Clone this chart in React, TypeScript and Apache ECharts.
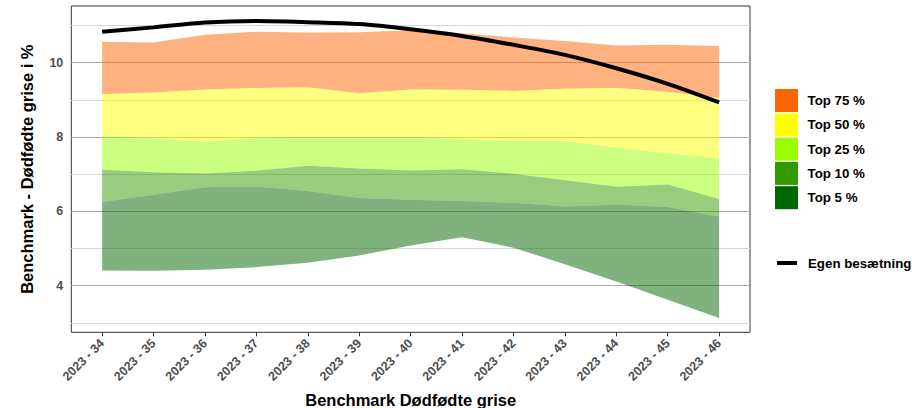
import React, { useEffect, useRef } from "react";
import * as echarts from "echarts";

const categories = [
  "2023 - 34", "2023 - 35", "2023 - 36", "2023 - 37", "2023 - 38", "2023 - 39", "2023 - 40",
  "2023 - 41", "2023 - 42", "2023 - 43", "2023 - 44", "2023 - 45", "2023 - 46",
];

// Band boundaries (values in %)
const lowerBound = [4.41, 4.40, 4.43, 4.50, 4.62, 4.81, 5.08, 5.30, 5.02, 4.58, 4.11, 3.62, 3.13];
const top5Upper = [6.25, 6.45, 6.65, 6.67, 6.55, 6.36, 6.31, 6.28, 6.23, 6.13, 6.18, 6.12, 5.86];
const top10Upper = [7.12, 7.05, 7.02, 7.09, 7.23, 7.15, 7.10, 7.13, 7.01, 6.84, 6.66, 6.72, 6.33];
const top25Upper = [8.03, 7.96, 7.87, 7.97, 8.00, 8.00, 8.00, 7.93, 7.90, 7.89, 7.71, 7.56, 7.42];
const top50Upper = [9.15, 9.20, 9.28, 9.32, 9.34, 9.18, 9.28, 9.27, 9.24, 9.30, 9.32, 9.22, 9.05];
const top75Upper = [10.56, 10.54, 10.75, 10.83, 10.81, 10.82, 10.87, 10.79, 10.68, 10.58, 10.46, 10.48, 10.45];
const ownHerd = [10.83, 10.95, 11.08, 11.12, 11.09, 11.04, 10.90, 10.72, 10.48, 10.21, 9.85, 9.43, 8.93];

const bandNames = ["Top 75 %", "Top 50 %", "Top 25 %", "Top 10 %", "Top 5 %"];
const bandColors = ["#FF6600", "#FFFF00", "#99FF00", "#339900", "#006600"];
const lineName = "Egen besætning";

const yLabelValues = [4, 6, 8, 10];
const yMinorGrid = [3, 5, 7, 9, 11];

const FONT = "'Liberation Sans', Arial, Helvetica, sans-serif";

const xIdx = categories.map((_, i) => i);

function bandSeries(name: string, lower: number[], upper: number[], color: string) {
  const fill = echarts.color.modifyAlpha(color, 0.5);
  return {
    type: "custom",
    name,
    z: 2,
    silent: true,
    data: lower.map((lo, i) => [i, lo, upper[i]]),
    encode: { x: 0, y: [1, 2] },
    renderItem: (params: any, api: any) => {
      if (params.dataIndex !== 0) return null;
      const top = upper.map((v, i) => api.coord([i, v]));
      const bottom = lower.map((v, i) => api.coord([i, v])).reverse();
      return {
        type: "polygon",
        shape: { points: top.concat(bottom) },
        style: { fill },
        silent: true,
      };
    },
  };
}

export default function App() {
  const ref = useRef<HTMLDivElement>(null);

  useEffect(() => {
    const chart = echarts.init(ref.current!, null, { renderer: "svg" });

    const bounds = [top75Upper, top50Upper, top25Upper, top10Upper, top5Upper, lowerBound];
    const bands = bandNames.map((n, k) => bandSeries(n, bounds[k + 1], bounds[k], bandColors[k]));

    const legendX = 775;
    const legendY = 89;
    const pitch = 24.3;
    const legendGraphics: any[] = [];
    bandNames.forEach((n, k) => {
      legendGraphics.push({
        type: "rect",
        left: legendX,
        top: legendY + k * pitch,
        shape: { width: 23, height: 23 },
        style: { fill: bandColors[k] },
      });
      legendGraphics.push({
        type: "text",
        x: 807.5,
        y: legendY + k * pitch + 11.5,
        style: {
          text: n,
          fill: "#000",
          font: `bold 13.3px ${FONT}`,
          verticalAlign: "middle",
          align: "left",
        },
      });
    });
    legendGraphics.push({
      type: "rect",
      left: 777,
      top: 261,
      shape: { width: 20, height: 4 },
      style: { fill: "#000" },
    });
    legendGraphics.push({
      type: "text",
      x: 808,
      y: 263,
      style: {
        text: lineName,
        fill: "#000",
        font: `bold 13.3px ${FONT}`,
        verticalAlign: "middle",
        align: "left",
      },
    });

    const gridLines = [
      ...yMinorGrid.map((v) => ({ yAxis: v, lineStyle: { color: "#d6d6d6", width: 1, type: "solid" } })),
      ...yLabelValues.map((v) => ({ yAxis: v, lineStyle: { color: "#a8a8a8", width: 1.1, type: "solid" } })),
    ];

    chart.setOption({
      animation: false,
      textStyle: { fontFamily: FONT },
      grid: {
        left: 71.3,
        right: 162,
        top: 6,
        bottom: 75.7,
        show: true,
        borderColor: "#333333",
        borderWidth: 1,
        backgroundColor: "#ffffff",
        containLabel: false,
        outerBoundsMode: "none",
      },
      xAxis: {
        type: "value",
        min: -0.6,
        max: 12.6,
        splitLine: { show: false },
        axisLine: { show: false },
        axisTick: { show: true, customValues: xIdx, length: 4, lineStyle: { color: "#333333" } },
        axisLabel: {
          customValues: xIdx,
          formatter: (v: number) => categories[Math.round(v)] ?? "",
          rotate: 45,
          margin: 9,
          color: "#4D4D4D",
          fontWeight: "bold",
          fontSize: 12.5,
          fontFamily: FONT,
        },
        name: "Benchmark Dødfødte grise",
        nameLocation: "middle",
        nameGap: 59,
        nameTextStyle: { color: "#000", fontWeight: "bold", fontSize: 16.5, fontFamily: FONT },
      },
      yAxis: {
        type: "value",
        min: 2.746,
        max: 11.525,
        splitLine: { show: false },
        axisLine: { show: false },
        axisTick: { show: true, customValues: yLabelValues, length: 4.5, lineStyle: { color: "#333333" } },
        axisLabel: {
          customValues: yLabelValues,
          margin: 8,
          color: "#4D4D4D",
          fontWeight: "bold",
          fontSize: 12.5,
          fontFamily: FONT,
        },
        name: "Benchmark - Dødfødte grise i %",
        nameLocation: "middle",
        nameRotate: 90,
        nameGap: 35.5,
        nameTextStyle: { color: "#000", fontWeight: "bold", fontSize: 16.5, fontFamily: FONT },
      },
      graphic: legendGraphics,
      series: [
        ...bands,
        {
          type: "line",
          name: lineName,
          data: ownHerd.map((v, i) => [i, v]),
          smooth: 0.3,
          symbol: "none",
          lineStyle: { color: "#000000", width: 4 },
          z: 5,
          silent: true,
          markLine: {
            silent: true,
            z: 1,
            symbol: ["none", "none"],
            label: { show: false },
            emphasis: { disabled: true },
            data: gridLines,
          },
        },
      ],
    });

    return () => chart.dispose();
  }, []);

  return (
    <div
      ref={ref}
      style={{ position: "absolute", left: 0, top: 0, width: 912, height: 408 }}
    />
  );
}
